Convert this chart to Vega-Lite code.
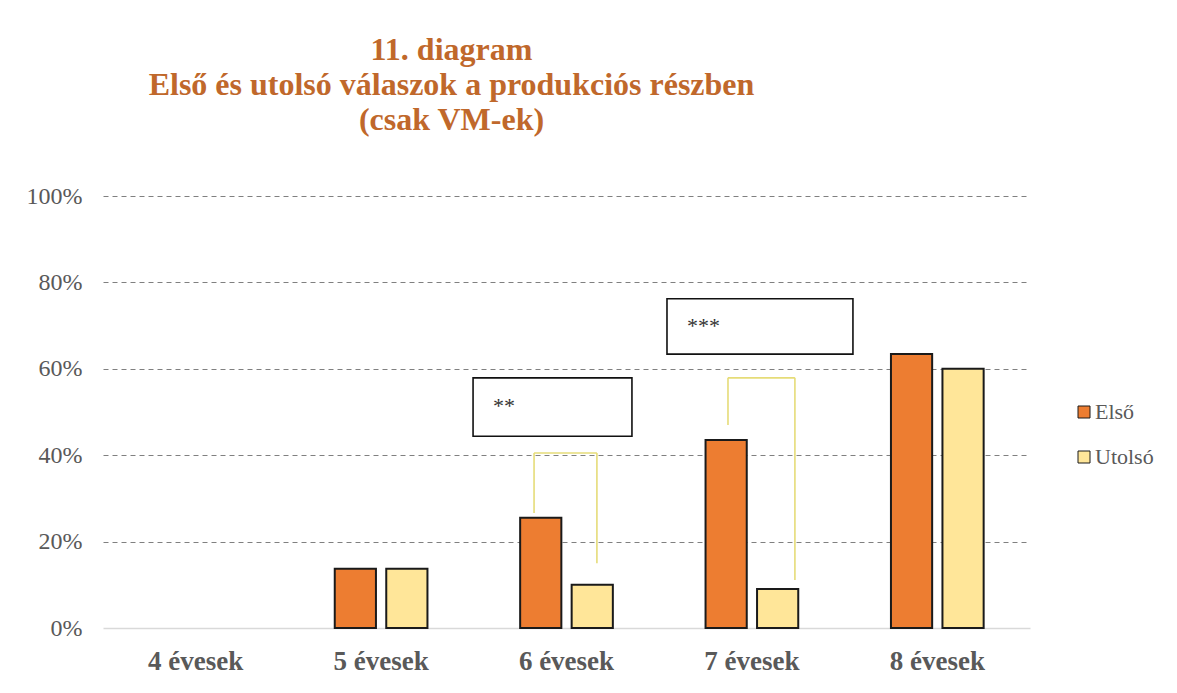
{
  "$schema": "https://vega.github.io/schema/vega-lite/v6.json",
  "width": 927,
  "height": 432,
  "autosize": {"type": "none"},
  "padding": {"left": 103, "top": 196, "right": 147, "bottom": 65},
  "background": "white",
  "title": {
    "text": ["11. diagram", "Első és utolsó válaszok a produkciós részben", "(csak VM-ek)"],
    "font": "Liberation Serif",
    "fontSize": 32,
    "fontWeight": "bold",
    "color": "#C0682B",
    "lineHeight": 35,
    "anchor": "middle",
    "frame": "group",
    "dx": -115,
    "offset": 47
  },
  "config": {
    "view": {"stroke": null},
    "font": "Liberation Serif"
  },
  "datasets": {
    "bars": [
      {"kor": "5 évesek", "valasz": "Első", "arany": 0.137},
      {"kor": "5 évesek", "valasz": "Utolsó", "arany": 0.137},
      {"kor": "6 évesek", "valasz": "Első", "arany": 0.255},
      {"kor": "6 évesek", "valasz": "Utolsó", "arany": 0.10},
      {"kor": "7 évesek", "valasz": "Első", "arany": 0.435},
      {"kor": "7 évesek", "valasz": "Utolsó", "arany": 0.09},
      {"kor": "8 évesek", "valasz": "Első", "arany": 0.634},
      {"kor": "8 évesek", "valasz": "Utolsó", "arany": 0.60}
    ],
    "boxes": [
      {"x1": 1.996, "x2": 2.853, "y1": 0.444, "y2": 0.579},
      {"x1": 3.042, "x2": 4.045, "y1": 0.634, "y2": 0.762}
    ],
    "stars": [
      {"x": 2.103, "y": 0.498, "t": "**"},
      {"x": 3.15, "y": 0.683, "t": "***"}
    ],
    "brackets": [
      {"x1": 2.325, "x2": 2.325, "y1": 0.266, "y2": 0.405},
      {"x1": 2.325, "x2": 2.664, "y1": 0.405, "y2": 0.405},
      {"x1": 2.664, "x2": 2.664, "y1": 0.405, "y2": 0.150},
      {"x1": 3.371, "x2": 3.371, "y1": 0.470, "y2": 0.579},
      {"x1": 3.371, "x2": 3.732, "y1": 0.579, "y2": 0.579},
      {"x1": 3.732, "x2": 3.732, "y1": 0.579, "y2": 0.111}
    ]
  },
  "layer": [
    {
      "data": {"name": "bars"},
      "mark": {"type": "bar", "stroke": "#1a1a1a", "strokeWidth": 2},
      "encoding": {
        "x": {
          "field": "kor",
          "type": "nominal",
          "scale": {"domain": ["4 évesek", "5 évesek", "6 évesek", "7 évesek", "8 évesek"], "paddingInner": 0.5, "paddingOuter": 0.25},
          "axis": {
            "title": null,
            "labelAngle": 0,
            "labelFont": "Liberation Serif",
            "labelFontSize": 27,
            "labelFontWeight": "bold",
            "labelColor": "#595959",
            "labelPadding": 20,
            "ticks": false,
            "domainColor": "#D9D9D9",
            "domainWidth": 1.5
          }
        },
        "xOffset": {
          "field": "valasz",
          "type": "nominal",
          "scale": {"domain": ["Első", "Utolsó"], "paddingInner": 0.2}
        },
        "y": {
          "field": "arany",
          "type": "quantitative",
          "scale": {"domain": [0, 1], "nice": false},
          "axis": {
            "title": null,
            "values": [0, 0.2, 0.4, 0.6, 0.8, 1],
            "format": ".0%",
            "labelFont": "Liberation Serif",
            "labelFontSize": 24,
            "labelColor": "#595959",
            "labelPadding": 21,
            "ticks": false,
            "domain": false,
            "gridColor": "#808080",
            "gridDash": [5, 4],
            "gridWidth": 1,
            "gridOpacity": {"condition": {"test": "datum.value === 0", "value": 0}, "value": 1}
          }
        },
        "color": {
          "field": "valasz",
          "type": "nominal",
          "scale": {"domain": ["Első", "Utolsó"], "range": ["#ED7D31", "#FFE699"]},
          "legend": {
            "title": null,
            "orient": "none",
            "legendX": 970,
            "legendY": 205,
            "symbolType": "square",
            "symbolSize": 144,
            "symbolStrokeColor": "#1a1a1a",
            "symbolStrokeWidth": 1,
            "labelFont": "Liberation Serif",
            "labelFontSize": 22,
            "labelColor": "#595959",
            "labelOffset": 0,
            "rowPadding": 23
          }
        }
      }
    },
    {
      "data": {"name": "brackets"},
      "mark": {"type": "rule", "color": "#E6DC78", "strokeWidth": 1.6},
      "encoding": {
        "x": {"field": "x1", "type": "quantitative", "scale": {"domain": [0, 5], "nice": false, "zero": false}, "axis": null},
        "x2": {"field": "x2"},
        "y": {"field": "y1", "type": "quantitative"},
        "y2": {"field": "y2"}
      }
    },
    {
      "data": {"name": "boxes"},
      "mark": {"type": "rect", "fill": "white", "stroke": "#111111", "strokeWidth": 1.6},
      "encoding": {
        "x": {"field": "x1", "type": "quantitative", "scale": {"domain": [0, 5], "nice": false, "zero": false}, "axis": null},
        "x2": {"field": "x2"},
        "y": {"field": "y1", "type": "quantitative"},
        "y2": {"field": "y2"}
      }
    },
    {
      "data": {"name": "stars"},
      "mark": {"type": "text", "align": "left", "baseline": "alphabetic", "font": "Liberation Serif", "fontSize": 22, "color": "#333333"},
      "encoding": {
        "x": {"field": "x", "type": "quantitative", "scale": {"domain": [0, 5], "nice": false, "zero": false}, "axis": null},
        "y": {"field": "y", "type": "quantitative"},
        "text": {"field": "t"}
      }
    }
  ],
  "resolve": {"scale": {"x": "independent"}}
}
